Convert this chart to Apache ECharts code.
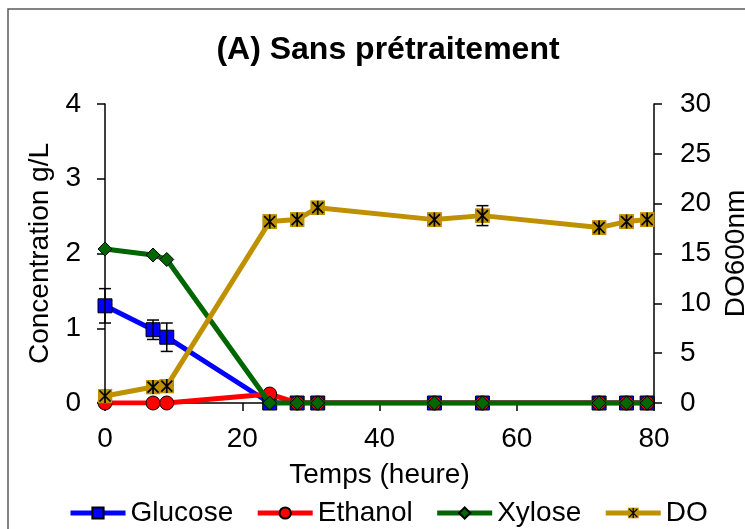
<!DOCTYPE html>
<html>
<head>
<meta charset="utf-8">
<script src="https://cdn.jsdelivr.net/npm/echarts@6/dist/echarts.min.js"></script>
<style>
  html, body { margin: 0; padding: 0; background: #fff; }
  #chart { width: 745px; height: 529px; }
</style>
</head>
<body>
<div id="chart"></div>
<script>
// Sampling times (hours)
const hours = [0, 7, 9, 24, 28, 31, 48, 55, 72, 76, 79];

// Concentrations (g/L), left axis
const glucose = [1.30, 0.98, 0.88, 0, 0, 0, 0, 0, 0, 0, 0];
const glucoseErr = [0.23, 0.13, 0.19, 0, 0, 0, 0, 0, 0, 0, 0];
const ethanol = [0, 0, 0, 0.12, 0, 0, 0, 0, 0, 0, 0];
const xylose = [2.06, 1.98, 1.92, 0, 0, 0, 0, 0, 0, 0, 0];

// Optical density at 600 nm, right axis
const od = [0.7, 1.6, 1.7, 18.2, 18.4, 19.6, 18.4, 18.8, 17.6, 18.2, 18.4];
const odErr = [0, 0, 0, 0, 0, 0, 0, 1.0, 0, 0, 0];

const FONT = '"Liberation Sans", Arial, sans-serif';
const GOLD = '#BF9000';

const pairs = ys => hours.map((h, i) => [h, ys[i]]);
const triples = (ys, es) => hours.map((h, i) => [h, ys[i], es[i]]);

// Star marker: gold square with a black asterisk
const starSvg = "<svg xmlns='http://www.w3.org/2000/svg' width='30' height='30' viewBox='0 0 30 30'>" +
  "<rect x='0' y='0' width='30' height='30' fill='" + GOLD + "'/>" +
  "<path d='M4 4L26 26M26 4L4 26M15 1V29' stroke='#000' stroke-width='3.4' fill='none'/></svg>";
const starSymbol = 'image://data:image/svg+xml;charset=utf-8,' + encodeURIComponent(starSvg);

function errorBars() {
  return function (params, api) {
    const x = api.value(0), y = api.value(1), e = api.value(2);
    if (!e) return null;
    const top = api.coord([x, y + e]);
    const bot = api.coord([x, y - e]);
    const w = 6;
    const st = { stroke: '#000', lineWidth: 1.5 };
    return {
      type: 'group',
      children: [
        { type: 'line', shape: { x1: top[0], y1: top[1], x2: bot[0], y2: bot[1] }, style: st },
        { type: 'line', shape: { x1: top[0] - w, y1: top[1], x2: top[0] + w, y2: top[1] }, style: st },
        { type: 'line', shape: { x1: bot[0] - w, y1: bot[1], x2: bot[0] + w, y2: bot[1] }, style: st }
      ]
    };
  };
}

const axisCommon = {
  splitLine: { show: false },
  axisLine: { show: true, lineStyle: { color: '#000', width: 1.5 } },
  axisTick: { show: true, inside: false, length: 8, lineStyle: { color: '#000', width: 1.5 } },
  axisLabel: { color: '#000', fontSize: 28, fontFamily: FONT },
  nameTextStyle: { color: '#000', fontSize: 28, fontFamily: FONT }
};

const chart = echarts.init(document.getElementById('chart'), null, { renderer: 'canvas' });

chart.setOption({
  animation: false,
  backgroundColor: '#fff',
  title: {
    text: '(A) Sans prétraitement',
    left: 383,
    top: 29,
    textAlign: 'center',
    textStyle: { fontSize: 32, fontWeight: 'bold', color: '#000', fontFamily: FONT }
  },
  graphic: [{
    type: 'rect',
    shape: { x: 8, y: 9, width: 800, height: 600 },
    style: { fill: 'none', stroke: '#595959', lineWidth: 1.5 },
    silent: true
  }],
  grid: { left: 105, right: 91, top: 104, bottom: 126, containLabel: false, outerBoundsMode: 'none' },
  legend: {
    data: ['Glucose', 'Ethanol', 'Xylose', 'DO'],
    left: 68,
    top: 499,
    padding: 0,
    itemWidth: 55,
    itemHeight: 14,
    itemGap: 22,
    lineStyle: { width: 5 },
    textStyle: { color: '#000', fontSize: 28, fontFamily: FONT }
  },
  xAxis: Object.assign({}, axisCommon, {
    type: 'value',
    min: 0, max: 80, interval: 20,
    name: 'Temps (heure)',
    nameLocation: 'middle',
    nameGap: 58,
    axisLabel: Object.assign({}, axisCommon.axisLabel, { margin: 22 })
  }),
  yAxis: [
    Object.assign({}, axisCommon, {
      type: 'value',
      min: 0, max: 4, interval: 1,
      name: 'Concentration g/L',
      nameLocation: 'middle',
      nameRotate: 90,
      nameGap: 51,
      axisLabel: Object.assign({}, axisCommon.axisLabel, { margin: 24 })
    }),
    Object.assign({}, axisCommon, {
      type: 'value',
      position: 'right',
      min: 0, max: 30, interval: 5,
      name: 'DO600nm',
      nameLocation: 'middle',
      nameRotate: 90,
      nameGap: 62,
      axisLabel: Object.assign({}, axisCommon.axisLabel, { margin: 26 })
    })
  ],
  series: [
    {
      name: 'Glucose', type: 'line', yAxisIndex: 0, data: pairs(glucose),
      symbol: 'rect', symbolSize: 14,
      lineStyle: { color: '#0000FF', width: 5 },
      itemStyle: { color: '#0000FF', borderColor: '#000', borderWidth: 1 },
      z: 2
    },
    {
      name: 'Ethanol', type: 'line', yAxisIndex: 0, data: pairs(ethanol),
      symbol: 'circle', symbolSize: 14,
      lineStyle: { color: '#FF0000', width: 5 },
      itemStyle: { color: '#FF0000', borderColor: '#000', borderWidth: 1 },
      z: 3
    },
    {
      name: 'Xylose', type: 'line', yAxisIndex: 0, data: pairs(xylose),
      symbol: 'diamond', symbolSize: 14,
      lineStyle: { color: '#006600', width: 5 },
      itemStyle: { color: '#006600', borderColor: '#000', borderWidth: 1 },
      z: 4
    },
    {
      name: 'DO', type: 'line', yAxisIndex: 1, data: pairs(od),
      symbol: starSymbol, symbolSize: 15,
      lineStyle: { color: GOLD, width: 5 },
      itemStyle: { color: GOLD },
      z: 5
    },
    {
      type: 'custom', yAxisIndex: 0, data: triples(glucose, glucoseErr),
      renderItem: errorBars(), encode: { x: 0, y: 1 }, z: 6, silent: true
    },
    {
      type: 'custom', yAxisIndex: 1, data: triples(od, odErr),
      renderItem: errorBars(), encode: { x: 0, y: 1 }, z: 6, silent: true
    }
  ]
});
</script>
</body>
</html>
